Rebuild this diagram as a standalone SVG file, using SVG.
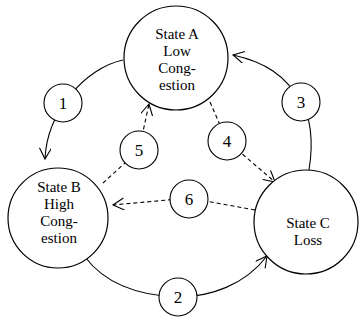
<svg xmlns="http://www.w3.org/2000/svg" width="360" height="320" viewBox="0 0 360 320">
<style>
.st{fill:#fff;stroke:#000;stroke-width:1.2}
.lb{fill:#fff;stroke:#000;stroke-width:1.1}
.t{font-family:"Liberation Serif","Times New Roman",serif;font-size:15px;text-anchor:middle;fill:#000}
.n{font-family:"Liberation Serif","Times New Roman",serif;font-size:17px;text-anchor:middle;fill:#000}
.e{fill:none;stroke:#000;stroke-width:1.1}
.d{fill:none;stroke:#000;stroke-width:1.1;stroke-dasharray:4 3}
</style>
<defs>
<marker id="ah" markerWidth="14" markerHeight="14" refX="12" refY="6" orient="auto" markerUnits="userSpaceOnUse">
<path d="M1,0 L12,6 L1,12" fill="none" stroke="#000" stroke-width="1.1"/>
</marker>
</defs>
<g id="connectors">
<path class="e" d="M123,60 C85,68 47,112 45,159" marker-end="url(#ah)"/>
<path class="e" d="M85,257 C110,290 150,296 178,297 C210,297 245,285 267,256" marker-end="url(#ah)"/>
<path class="e" d="M309,170 C314,140 310,115 301,102 C285,75 265,62 233,55" marker-end="url(#ah)"/>
<path class="d" d="M210,102 L227,141 L275,182" marker-end="url(#ah)"/>
<path class="d" d="M103,183 L139,150 L149,104" marker-end="url(#ah)"/>
<path class="d" d="M255,210 L189,198 L113,205" marker-end="url(#ah)"/>
</g>
<g id="stateA"><circle class="st" cx="176" cy="58" r="52"/>
<text class="t" x="177" y="39">State A</text><text class="t" x="177" y="56">Low</text><text class="t" x="177" y="73">Cong-</text><text class="t" x="177" y="90">estion</text></g>
<g id="stateB"><circle class="st" cx="58" cy="218" r="50"/>
<text class="t" x="59" y="192">State B</text><text class="t" x="59" y="209">High</text><text class="t" x="59" y="226">Cong-</text><text class="t" x="59" y="243">estion</text></g>
<g id="stateC"><circle class="st" cx="306" cy="222" r="52"/>
<text class="t" x="308" y="228">State C</text><text class="t" x="308" y="245">Loss</text></g>
<g id="label1"><circle class="lb" cx="63" cy="103" r="19"/><text class="n" x="63" y="109">1</text></g>
<g id="label2"><circle class="lb" cx="178" cy="297" r="19"/><text class="n" x="178" y="303">2</text></g>
<g id="label3"><circle class="lb" cx="301" cy="102" r="19"/><text class="n" x="301" y="108">3</text></g>
<g id="label4"><circle class="lb" cx="227" cy="141" r="19"/><text class="n" x="227" y="147">4</text></g>
<g id="label5"><circle class="lb" cx="139" cy="150" r="19"/><text class="n" x="139" y="156">5</text></g>
<g id="label6"><circle class="lb" cx="189" cy="199" r="19"/><text class="n" x="189" y="205">6</text></g>
</svg>
